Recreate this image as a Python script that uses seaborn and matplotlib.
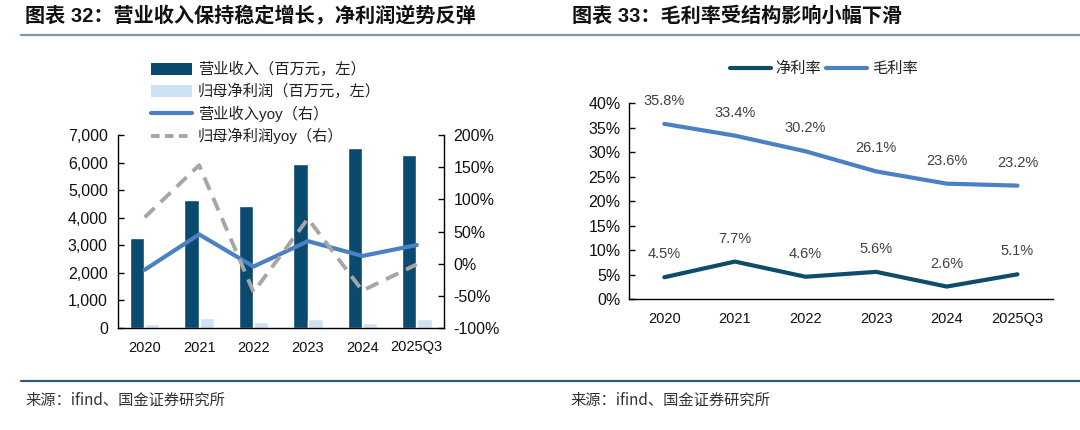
import numpy as np
import pandas as pd
import matplotlib
matplotlib.use("Agg")
import matplotlib.pyplot as plt
from matplotlib.lines import Line2D
from matplotlib.patches import Patch
from matplotlib.ticker import FuncFormatter
import seaborn as sns

# ---------------- data ----------------
categories = ['2020', '2021', '2022', '2023', '2024', '2025Q3']
revenue = [3250, 4650, 4440, 5940, 6540, 6275]          # 营业收入（百万元）
net_profit = [155, 370, 225, 335, 190, 335]             # 归母净利润（百万元）
revenue_yoy = [-9.5, 45.5, -4.5, 35.0, 12.0, 29.0]      # %
net_profit_yoy = [72.0, 153.0, -44.0, 70.0, -42.0, -1.0]  # %
gross_margin = [35.8, 33.4, 30.2, 26.1, 23.6, 23.2]     # 毛利率 %
net_margin = [4.5, 7.7, 4.6, 5.6, 2.6, 5.1]             # 净利率 %

lab_rev = '营业收入（百万元，左）'
lab_np = '归母净利润（百万元，左）'
lab_rev_yoy = '营业收入yoy（右）'
lab_np_yoy = '归母净利润yoy（右）'
lab_net_m = '净利率'
lab_gross_m = '毛利率'

title_left = '图表 32：营业收入保持稳定增长，净利润逆势反弹'
title_right = '图表 33：毛利率受结构影响小幅下滑'
source_text = '来源：ifind、国金证券研究所'

# ---------------- style ----------------
sns.set_theme(style='white')
plt.rcParams['font.family'] = ['Liberation Sans', 'Noto Sans CJK SC', 'DejaVu Sans']
plt.rcParams['axes.unicode_minus'] = False

C_DARK = '#0b4a6f'
C_LIGHT = '#cfe2f3'
C_BLUE = '#4a80c4'
C_GRAY = '#a6a6a6'
C_NET = '#0e4c6b'
TXT = '#111111'

fig = plt.figure(figsize=(10.8, 4.3), dpi=100)
W, H = 1080, 430

def fx(px):
    return px / W

def fy(py):
    return 1 - py / H

# ---------------- left chart ----------------
ax1 = fig.add_axes([fx(117.5), fy(328), fx(444) - fx(117.5), fy(135) - fy(328)])
df = pd.DataFrame({
    '年份': categories * 2,
    '值': revenue + net_profit,
    '系列': [lab_rev] * len(categories) + [lab_np] * len(categories),
})
sns.barplot(data=df, x='年份', y='值', hue='系列', palette=[C_DARK, C_LIGHT],
            width=0.56, gap=0.06, saturation=1, ax=ax1, legend=False)
ax1.set_xlim(-0.5, len(categories) - 0.5)
ax1.set_ylim(0, 7000)
ax1.set_yticks(np.arange(0, 7001, 1000))
ax1.yaxis.set_major_formatter(FuncFormatter(lambda v, p: f'{int(v):,}'))
ax1.set_xlabel('')
ax1.set_ylabel('')

ax2 = ax1.twinx()
xpos = np.arange(len(categories))
sns.lineplot(x=xpos, y=revenue_yoy, ax=ax2, color=C_BLUE, linewidth=3.0)
sns.lineplot(x=xpos, y=net_profit_yoy, ax=ax2, color=C_GRAY, linewidth=2.8)
ax2.lines[1].set_dashes((3.5, 2.2))
ax2.set_ylim(-100, 200)
ax2.set_yticks(np.arange(-100, 201, 50))
ax2.yaxis.set_major_formatter(FuncFormatter(lambda v, p: f'{int(v)}%'))
ax2.set_xlim(-0.5, len(categories) - 0.5)
ax2.set_ylabel('')

for a in (ax1, ax2):
    a.spines['top'].set_visible(False)
    for s in a.spines.values():
        s.set_color('black')
        s.set_linewidth(1.0)
ax1.spines['right'].set_visible(False)
ax2.spines['left'].set_visible(False)
ax2.spines['bottom'].set_visible(False)

ax1.set_xticks(xpos)
ax1.set_xticklabels(categories)
ax1.set_xticks(np.arange(-0.5, len(categories), 1), minor=True)
ax1.tick_params(axis='x', which='major', length=0, labelsize=10.5, pad=9, colors=TXT)
ax1.tick_params(axis='x', which='minor', direction='in', length=4, width=1, color='black')
ax1.tick_params(axis='y', direction='in', length=4, width=1, labelsize=11.5, pad=7,
                left=True, colors=TXT)
ax1.tick_params(axis='y', color='black')
ax2.tick_params(axis='y', direction='in', length=4, width=1, labelsize=11.5, pad=7,
                right=True, colors=TXT)
ax2.tick_params(axis='y', color='black')

handles_l = [
    Patch(facecolor=C_DARK, edgecolor='none'),
    Patch(facecolor=C_LIGHT, edgecolor='none'),
    Line2D([0], [0], color=C_BLUE, lw=3.0),
    Line2D([0], [0], color=C_GRAY, lw=2.8, dashes=(2.2, 1.4)),
]
fig.legend(handles_l, [lab_rev, lab_np, lab_rev_yoy, lab_np_yoy],
           loc='upper left', bbox_to_anchor=(fx(151), fy(62)), frameon=False,
           fontsize=11, handlelength=2.7, handleheight=0.8, handletextpad=0.35,
           labelspacing=0.42, borderaxespad=0, borderpad=0, labelcolor='#222222')

# ---------------- right chart ----------------
ax3 = fig.add_axes([fx(629), fy(299.3), fx(1052.7) - fx(629), fy(103.3) - fy(299.3)])
sns.lineplot(x=xpos, y=net_margin, ax=ax3, color=C_NET, linewidth=3.0)
sns.lineplot(x=xpos, y=gross_margin, ax=ax3, color=C_BLUE, linewidth=3.0)
ax3.set_xlim(-0.5, len(categories) - 0.5)
ax3.set_ylim(0, 40)
ax3.set_yticks(np.arange(0, 41, 5))
ax3.yaxis.set_major_formatter(FuncFormatter(lambda v, p: f'{int(v)}%'))
ax3.set_xticks(xpos)
ax3.set_xticklabels(categories)
ax3.set_xticks(np.arange(-0.5, len(categories), 1), minor=True)
ax3.tick_params(axis='x', which='major', length=0, labelsize=10.5, pad=9, colors=TXT)
ax3.tick_params(axis='x', which='minor', direction='in', length=4, width=1, color='black')
ax3.tick_params(axis='y', direction='in', length=4, width=1, labelsize=11.5, pad=6,
                left=True, colors=TXT)
ax3.tick_params(axis='y', color='black')
ax3.set_xlabel('')
ax3.set_ylabel('')
ax3.spines['top'].set_visible(False)
ax3.spines['right'].set_visible(False)
for s in ('left', 'bottom'):
    ax3.spines[s].set_color('black')
    ax3.spines[s].set_linewidth(1.0)

for series in (gross_margin, net_margin):
    for i, v in enumerate(series):
        ax3.annotate(f'{v:.1f}%', (i, v), xytext=(0, 16.5), textcoords='offset points',
                     ha='center', va='center', fontsize=10.5, color='#404040')

handles_r = [Line2D([0], [0], color=C_NET, lw=3.0), Line2D([0], [0], color=C_BLUE, lw=3.0)]
fig.legend(handles_r, [lab_net_m, lab_gross_m], loc='center',
           bbox_to_anchor=(fx(823.5), fy(69)), ncol=2, frameon=False, fontsize=11,
           handlelength=2.7, handletextpad=0.3, columnspacing=0.3,
           borderaxespad=0, borderpad=0, labelcolor='#222222')

# ---------------- titles, rules, sources ----------------
fig.add_artist(Line2D([fx(21), 1.0], [fy(35), fy(35)], color='#7f98ad', lw=1.6))
fig.add_artist(Line2D([fx(21), 1.0], [fy(381), fy(381)], color='#2b5d7b', lw=1.6))
fig.text(fx(25), fy(16), title_left, fontsize=14.5, fontweight='bold', color='#111111',
         va='center', ha='left')
fig.text(fx(572), fy(16), title_right, fontsize=14.5, fontweight='bold', color='#111111',
         va='center', ha='left')
fig.text(fx(25), fy(400), source_text, fontsize=11, color='#333333', va='center', ha='left',
         family=['Noto Sans CJK SC', 'DejaVu Sans'])
fig.text(fx(570), fy(400), source_text, fontsize=11, color='#333333', va='center', ha='left',
         family=['Noto Sans CJK SC', 'DejaVu Sans'])

fig.savefig('out.png', dpi=100, facecolor='white')
